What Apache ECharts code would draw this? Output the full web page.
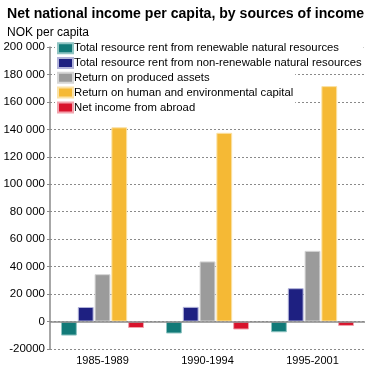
<!DOCTYPE html>
<html><head><meta charset="utf-8">
<script src="https://cdn.jsdelivr.net/npm/echarts@6/dist/echarts.min.js"></script>
<style>html,body{margin:0;padding:0;background:#fff;}#c{width:371px;height:369px;}</style>
</head><body><div id="c"></div>
<script>
const categories = ['1985-1989', '1990-1994', '1995-2001'];
const seriesNames = [
  'Total resource rent from renewable natural resources',
  'Total resource rent from non-renewable natural resources',
  'Return on produced assets',
  'Return on human and environmental capital',
  'Net income from abroad'
];
const renewable = [-10200, -8700, -7800];
const nonRenewable = [10600, 10700, 24300];
const producedAssets = [34500, 43800, 51500];
const humanCapital = [141500, 137500, 171500];
const abroad = [-4700, -5800, -3200];
const colors = ['#127a78', '#1e2081', '#9b9b9b', '#f5b935', '#d8132c'];
const borders = ['#8fc4c2', '#b3b4da', '#d6d6d6', '#fbe2a6', '#f2a3ad'];
const values = [renewable, nonRenewable, producedAssets, humanCapital, abroad];

function fmt(v){ if (v < 0) return String(v); if (v === 0) return '0'; const s = String(v); return s.replace(/\B(?=(\d{3})+(?!\d))/g, ' '); }

const chart = echarts.init(document.getElementById('c'), null, {renderer:'canvas'});
const font = "'Liberation Sans', Arial, sans-serif";
const series = seriesNames.map((n, i) => ({
  name: n, type: 'bar', data: values[i],
  barGap: '6%', barCategoryGap: '21%',
  itemStyle: { color: colors[i], borderColor: borders[i], borderWidth: 1 },
  z: 2
}));
series[0].markLine = {
  silent: true, symbol: 'none', label: {show:false},
  lineStyle: { color: '#8a8a8a', type: 'solid', width: 1.5 },
  data: [{ yAxis: 0 }], animation: false, z: 3
};
const legendBase = {
  orient: 'vertical', left: 55, itemWidth: 15, itemHeight: 10, itemGap: 0.8,
  backgroundColor: '#fff', padding: [1, 2, 1, 2], icon: 'rect',
  textStyle: { fontFamily: font, fontSize: 11.3, lineHeight: 14, color: '#000', padding: [0,0,0,-4] },
  z: 10
};
chart.setOption({
  animation: false,
  color: colors,
  title: [
    { text: 'Net national income per capita, by sources of income', left: 2, top: 2,
      textStyle: { fontFamily: font, fontSize: 14.1, fontWeight: 'bold', color: '#000' } },
    { text: 'NOK per capita', left: 2, top: 22,
      textStyle: { fontFamily: font, fontSize: 12, fontWeight: 'normal', color: '#000' } }
  ],
  legend: [
    Object.assign({}, legendBase, { top: 40.2, data: seriesNames.slice(0, 2) }),
    Object.assign({}, legendBase, { top: 69.8, data: seriesNames.slice(2) })
  ],
  grid: { left: 50, right: 6, top: 47, bottom: 20, containLabel: false },
  xAxis: {
    type: 'category', data: categories,
    axisLine: { show: false, onZero: false },
    axisTick: { show: false },
    axisLabel: { fontFamily: font, fontSize: 11, color: '#000', margin: 6 }
  },
  yAxis: {
    type: 'value', min: -20000, max: 200000, interval: 20000,
    axisLine: { show: true, lineStyle: { color: '#8a8a8a', width: 1.5 } },
    axisTick: { show: true, length: 3, lineStyle: { color: '#8a8a8a' } },
    axisLabel: { fontFamily: font, fontSize: 11.5, color: '#000', margin: 5, formatter: fmt },
    splitLine: { show: true, lineStyle: { color: '#8a8a8a', type: [2, 2], width: 1 } }
  },
  series: series
});
</script></body></html>
